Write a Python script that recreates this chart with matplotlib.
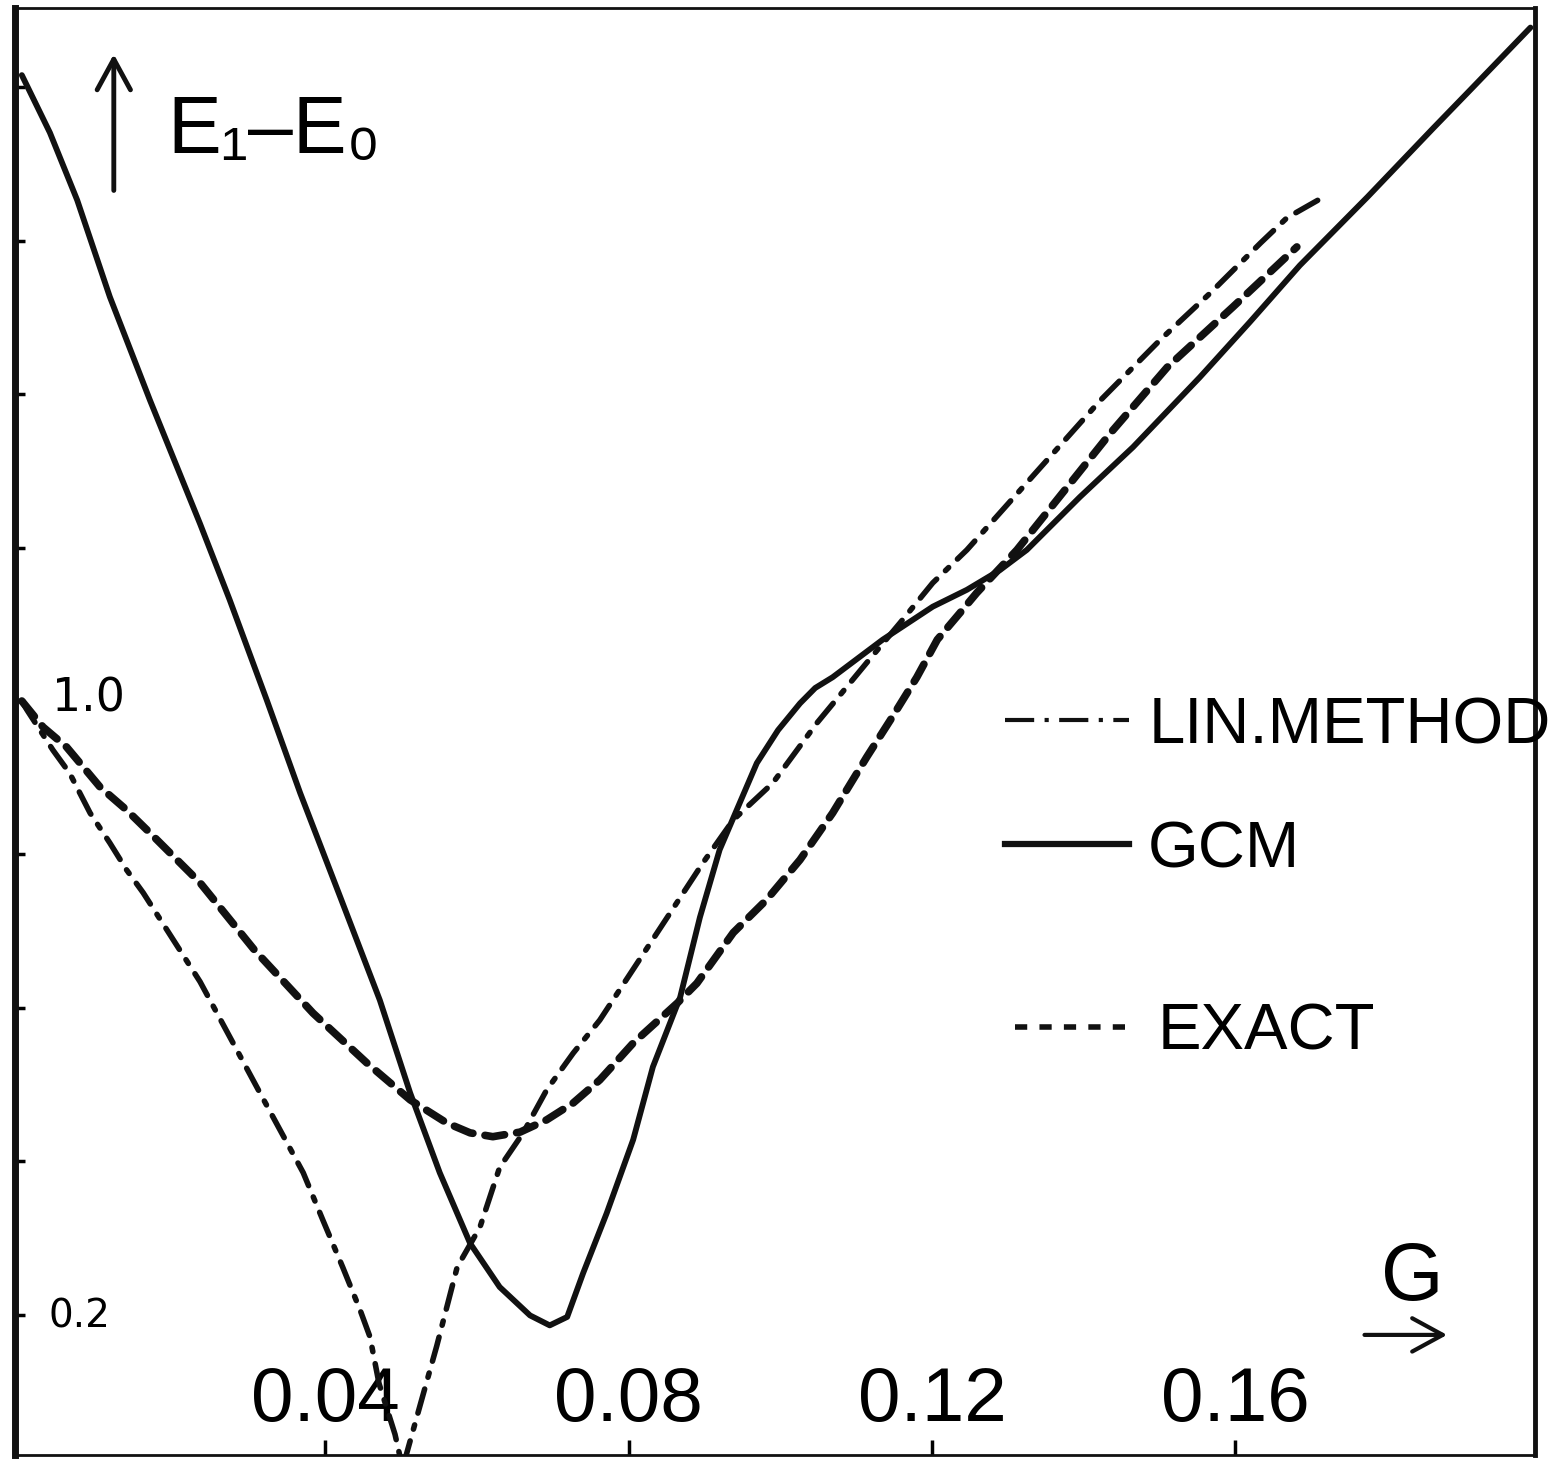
import matplotlib
matplotlib.use("Agg")
import matplotlib.pyplot as plt
from matplotlib.lines import Line2D

# --- data (G, E1-E0) ---
gcm_g = [0.0, 0.0037, 0.0073, 0.0116, 0.0169, 0.0235, 0.0274, 0.0323, 0.0367, 0.0420,
         0.0472, 0.0512, 0.0551, 0.0591, 0.0630, 0.0670, 0.0696, 0.0719, 0.0740, 0.0771,
         0.0806, 0.0832, 0.0868, 0.0894, 0.0920, 0.0969, 0.0997, 0.1026, 0.1046, 0.1069,
         0.1135, 0.1201, 0.1246, 0.1290, 0.1325, 0.1395, 0.1465, 0.1553, 0.1619, 0.1685,
         0.1774, 0.1861, 0.1910, 0.1989]
gcm_e = [1.816, 1.741, 1.653, 1.527, 1.392, 1.231, 1.132, 1.001, 0.880, 0.744,
         0.610, 0.489, 0.385, 0.293, 0.236, 0.199, 0.186, 0.197, 0.254, 0.332,
         0.428, 0.523, 0.614, 0.718, 0.806, 0.919, 0.962, 0.997, 1.017, 1.031,
         1.080, 1.123, 1.145, 1.171, 1.197, 1.266, 1.331, 1.422, 1.494, 1.568,
         1.657, 1.747, 1.797, 1.878]

exact_g = [0.0, 0.0028, 0.0059, 0.0103, 0.0138, 0.0169, 0.0235, 0.0307, 0.0384, 0.0455,
           0.0512, 0.0560, 0.0591, 0.0621, 0.0657, 0.0692, 0.0727, 0.0762, 0.0806, 0.0864,
           0.0890, 0.0938, 0.0982, 0.1026, 0.1069, 0.1114, 0.1145, 0.1180, 0.1207, 0.1237,
           0.1259, 0.1312, 0.1435, 0.1510, 0.1597, 0.1681]
exact_e = [1.0, 0.966, 0.940, 0.888, 0.858, 0.828, 0.763, 0.675, 0.593, 0.528,
           0.480, 0.450, 0.437, 0.432, 0.438, 0.454, 0.476, 0.506, 0.554, 0.606,
           0.632, 0.698, 0.741, 0.793, 0.854, 0.927, 0.975, 1.031, 1.080, 1.115,
           1.141, 1.197, 1.349, 1.435, 1.514, 1.592]

lin_g = [0.0, 0.0007, 0.0041, 0.0063, 0.0090, 0.0116, 0.0138, 0.0160, 0.0235, 0.0314,
         0.0371, 0.0397, 0.0423, 0.0446, 0.0459, 0.0471, 0.0492, 0.0502, 0.0526, 0.0547,
         0.0574, 0.0604, 0.0630, 0.0661, 0.0692, 0.0727, 0.0762, 0.0851, 0.0898, 0.0938,
         0.0990, 0.1048, 0.1114, 0.1158, 0.1201, 0.1246, 0.1422, 0.1501, 0.1567, 0.1633,
         0.1668, 0.1716]
lin_e = [1.0, 0.988, 0.936, 0.906, 0.854, 0.815, 0.780, 0.750, 0.634, 0.489,
         0.385, 0.323, 0.262, 0.206, 0.171, 0.110, 0.044, 0.0, 0.085, 0.159,
         0.262, 0.314, 0.392, 0.437, 0.493, 0.541, 0.584, 0.718, 0.789, 0.845,
         0.893, 0.971, 1.050, 1.102, 1.154, 1.197, 1.392, 1.471, 1.532, 1.597,
         1.630, 1.657]

xticks = [0.04, 0.08, 0.12, 0.16]
xtick_labels = ["0.04", "0.08", "0.12", "0.16"]
yticks = [0.2, 0.4, 0.6, 0.8, 1.0, 1.2, 1.4, 1.6, 1.8]

lettering = ["Liberation Sans", "DejaVu Sans"]
ink = "#111111"

fig = plt.figure(figsize=(15.6, 14.64), dpi=100)
ax = fig.add_axes([15 / 1560, 9 / 1464, 1520 / 1560, 1447 / 1464])

ax.plot(gcm_g, gcm_e, color=ink, lw=4.2, solid_capstyle="round", solid_joinstyle="round")
ax.plot(exact_g, exact_e, color=ink, lw=5.5, dashes=(2.6, 1.6), dash_capstyle="round")
ax.plot(lin_g, lin_e, color=ink, lw=4.0, dashes=(4.5, 2.2, 0.8, 2.2),
        dash_capstyle="round")

ax.set_xlim(-0.0009, 0.1995)
ax.set_ylim(0.017, 1.9035)

ax.set_xticks(xticks)
ax.set_xticklabels(xtick_labels, family=lettering, fontsize=55)
ax.set_yticks(yticks)
ax.set_yticklabels([])
ax.tick_params(axis="x", direction="in", length=11, width=2.5, pad=-64)
ax.tick_params(axis="y", direction="in", length=7, width=2.5)

ax.spines["left"].set_linewidth(5)
ax.spines["right"].set_linewidth(3.5)
ax.spines["top"].set_linewidth(2)
ax.spines["bottom"].set_linewidth(2)
for s in ax.spines.values():
    s.set_color(ink)

# y labels written by hand next to two ticks
ax.text(0.0040, 0.986, "1.0", fontsize=33, va="baseline", ha="left")
ax.text(0.0035, 0.197, "0.2", fontsize=28, va="center", ha="left")

# axis captions with arrows
ax.annotate("", xy=(0.065, 0.970), xytext=(0.065, 0.872), xycoords="axes fraction",
            arrowprops=dict(arrowstyle="->,head_length=1.1,head_width=0.6",
                            lw=3.5, color=ink, mutation_scale=20))
ax.text(0.100, 0.900, "E\u2081\u2013E\u2080", transform=ax.transAxes, family=lettering,
        fontsize=58, va="baseline", ha="left")

ax.text(0.919, 0.107, "G", transform=ax.transAxes, family=lettering, fontsize=58,
        ha="center", va="baseline")
ax.annotate("", xy=(0.944, 0.083), xytext=(0.886, 0.083), xycoords="axes fraction",
            arrowprops=dict(arrowstyle="->,head_length=1.1,head_width=0.6",
                            lw=3, color=ink, mutation_scale=20))

# legend, in two blocks like the drawing
h_lin = Line2D([], [], color=ink, lw=3, dashes=(7, 2.5, 1, 2.5))
h_gcm = Line2D([], [], color=ink, lw=4.5)
h_exact = Line2D([], [], color=ink, lw=4, dashes=(2.2, 2.2))

leg1 = ax.legend([h_lin, h_gcm], ["LIN.METHOD", "GCM"], loc="upper left",
                 bbox_to_anchor=(0.651, 0.5245), frameon=False, borderpad=0,
                 borderaxespad=0, handlelength=1.9, handletextpad=0.3,
                 labelspacing=0.98, prop={"family": lettering, "size": 47})
ax.add_artist(leg1)
ax.legend([h_exact], ["EXACT"], loc="upper left", bbox_to_anchor=(0.658, 0.3124),
          frameon=False, borderpad=0, borderaxespad=0, handlelength=1.74,
          handletextpad=0.45, prop={"family": lettering, "size": 47})

fig.savefig("out.png", dpi=100)
